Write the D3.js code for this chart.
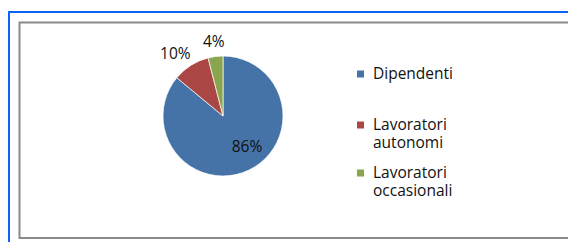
<!DOCTYPE html>
<html>
<head>
<meta charset="utf-8">
<script src="https://cdn.jsdelivr.net/npm/d3@7"></script>
<style>
  body { margin: 0; background: #fff; }
  svg { display: block; font-family: 'Open Sans', sans-serif; }
</style>
</head>
<body>
<svg id="chart"></svg>
<script>
const categories = ['Dipendenti', 'Lavoratori autonomi', 'Lavoratori occasionali'];
const values = [86, 10, 4];
const labels = ['86%', '10%', '4%'];
const legendLines = [['Dipendenti'], ['Lavoratori', 'autonomi'], ['Lavoratori', 'occasionali']];
const colors = ['#4572A7', '#AA4643', '#89A54E'];

const width = 568;
const height = 242;

const svg = d3.select('#chart')
  .attr('width', width)
  .attr('height', height);

// outer blue frame (cut off at right/bottom)
svg.append('path')
  .attr('d', 'M9,' + height + ' V12 H' + width)
  .attr('fill', 'none')
  .attr('stroke', '#0a64f5')
  .attr('stroke-width', 2);

// chart area border
svg.append('path')
  .attr('d', 'M' + width + ',238 H19.5 V22.5 H' + width)
  .attr('fill', 'none')
  .attr('stroke', '#8a8a8a')
  .attr('stroke-width', 2);

const cx = 223;
const cy = 116;
const radius = 60;

const pie = d3.pie().sort(null).value(d => d);
const arcs = pie(values);
const arc = d3.arc().innerRadius(0).outerRadius(radius);

const g = svg.append('g').attr('transform', 'translate(' + cx + ',' + cy + ')');

g.selectAll('path')
  .data(arcs)
  .enter()
  .append('path')
  .attr('d', arc)
  .attr('fill', (d, i) => colors[i])
  .attr('stroke', '#fff')
  .attr('stroke-width', 0.7);

// label positions: inside for the big slice, outside for the small ones
const outArc = d3.arc().innerRadius(radius + 14).outerRadius(radius + 14);
const labelShift = [[0, 0], [-8, 0], [0, -1]];

g.selectAll('text.lbl')
  .data(arcs)
  .enter()
  .append('text')
  .attr('class', 'lbl')
  .attr('transform', (d, i) => {
    const c = i === 0 ? [24, 31] : outArc.centroid(d);
    return 'translate(' + (c[0] + labelShift[i][0]) + ',' + (c[1] + labelShift[i][1]) + ')';
  })
  .attr('text-anchor', 'middle')
  .attr('dy', '0.35em')
  .attr('font-size', 15.5)
  .attr('fill', '#111')
  .text((d, i) => labels[i]);

// legend
const legendY = [79, 130, 178];
const legend = svg.append('g');

legend.selectAll('rect')
  .data(categories)
  .enter()
  .append('rect')
  .attr('x', 357)
  .attr('y', (d, i) => legendY[i] - 8.5)
  .attr('width', 7)
  .attr('height', 7)
  .attr('fill', (d, i) => colors[i]);

const lines = [];
legendLines.forEach((ls, i) => ls.forEach((t, j) => lines.push({ t: t, y: legendY[i] + j * 18 })));

legend.selectAll('text')
  .data(lines)
  .enter()
  .append('text')
  .attr('x', 373)
  .attr('y', d => d.y)
  .attr('font-size', 15.5)
  .attr('fill', '#111')
  .text(d => d.t);
</script>
</body>
</html>
